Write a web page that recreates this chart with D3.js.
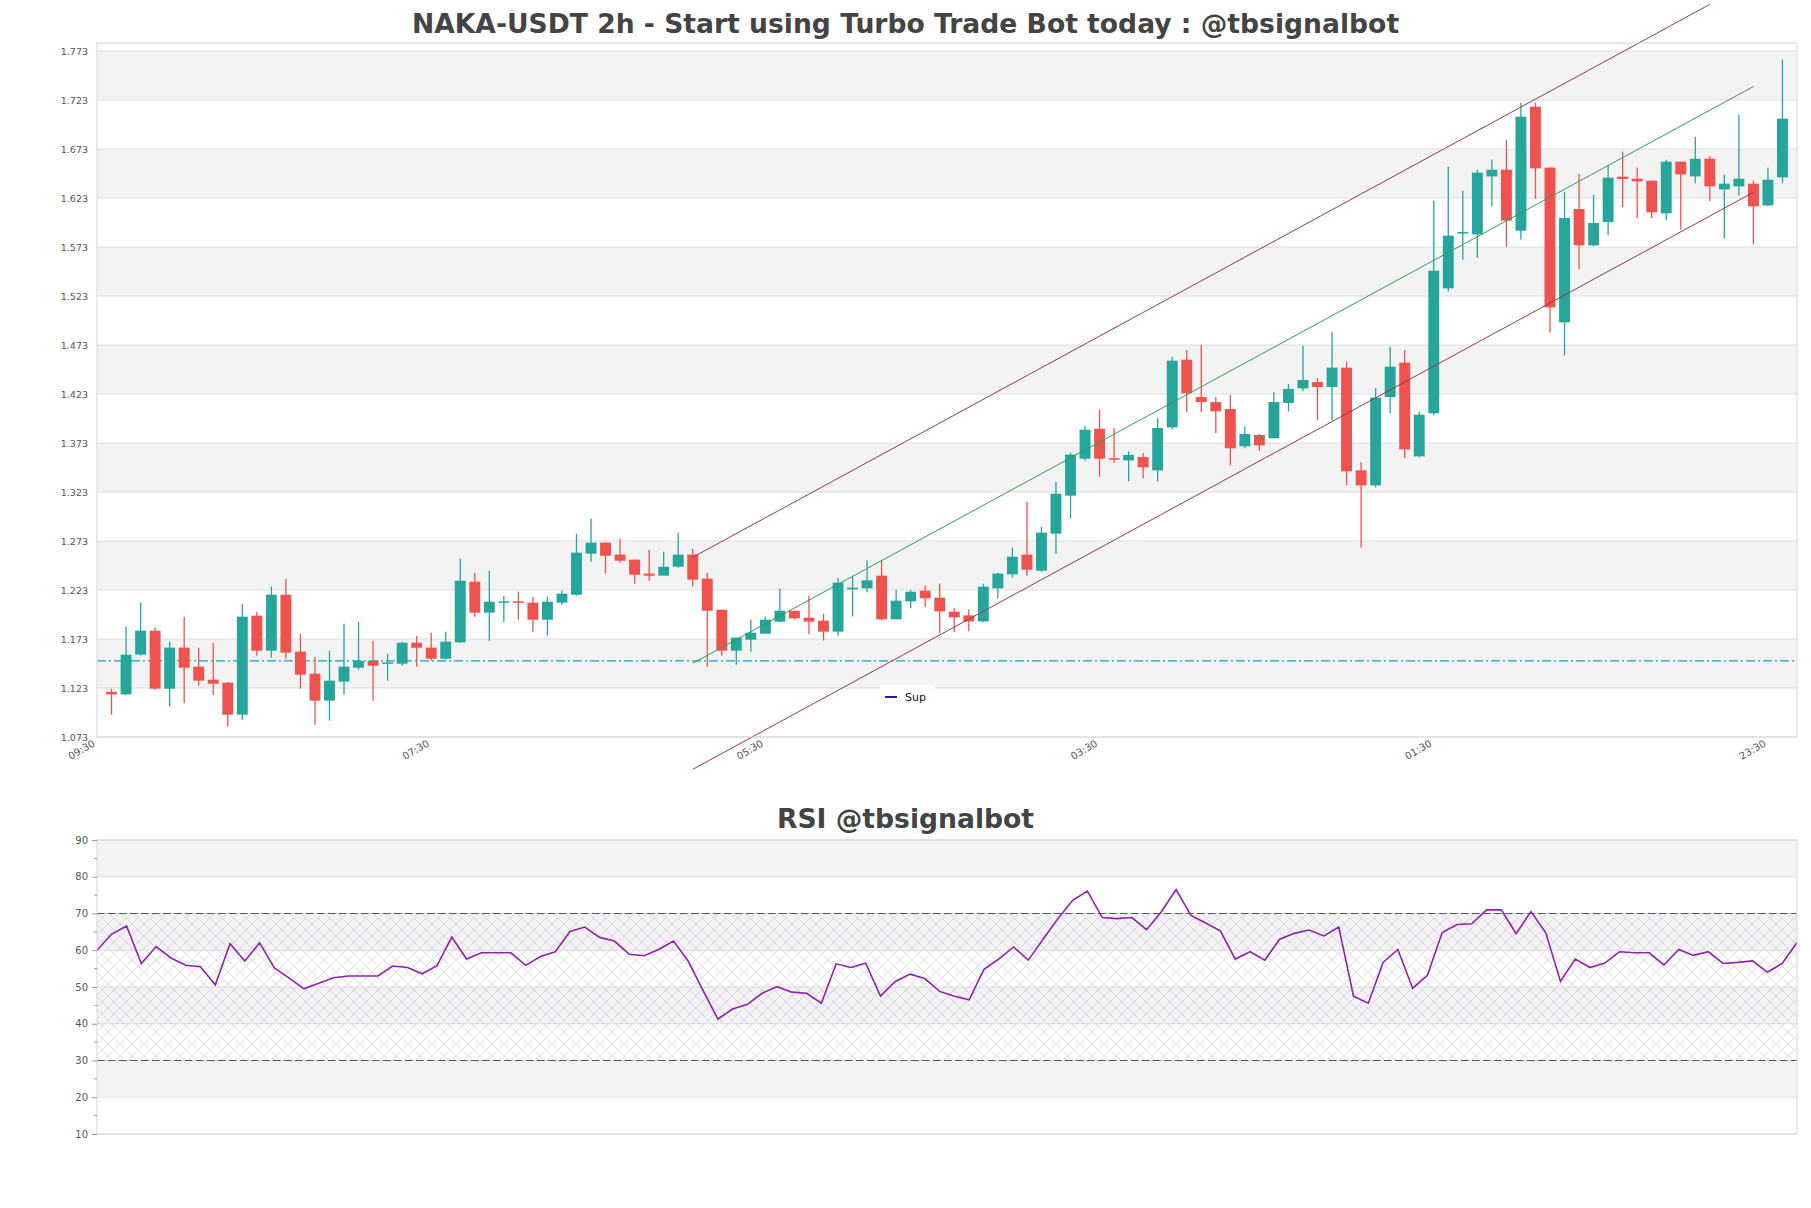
<!DOCTYPE html>
<html><head><meta charset="utf-8">
<script src="https://cdn.jsdelivr.net/npm/d3@7"></script>
<style>html,body{margin:0;padding:0;background:#fff;}svg{display:block;font-family:"DejaVu Sans",sans-serif;}</style>
</head><body>
<script>
// ---------------- data ----------------
const openV = [1.119,1.1165,1.157,1.1815,1.1223,1.1642,1.1448,1.1315,1.1284,1.0958,
1.1968,1.1611,1.2182,1.1601,1.1376,1.1101,1.1295,1.1437,1.1506,1.1482,
1.1478,1.1692,1.1642,1.1529,1.1696,1.2315,1.1999,1.2111,1.2114,1.2101,
1.1927,1.2101,1.2182,1.2601,1.2713,1.2591,1.254,1.2397,1.2376,1.2468,
1.2591,1.2346,1.2029,1.1611,1.1723,1.1784,1.1907,1.2019,1.1948,1.1917,
1.1805,1.2237,1.2247,1.2376,1.1931,1.2114,1.2223,1.2152,1.2009,1.1971,
1.191,1.2247,1.239,1.2591,1.2427,1.2805,1.3193,1.357,1.3876,1.3575,
1.3553,1.3587,1.3451,1.389,1.458,1.4199,1.4148,1.4077,1.3696,1.3812,
1.3778,1.4138,1.4288,1.4352,1.4301,1.4499,1.3451,1.3298,1.4199,1.455,
1.3594,1.4033,1.5308,1.5875,1.5859,1.6451,1.6519,1.5897,1.7162,1.654,
1.4961,1.6118,1.5747,1.5985,1.6448,1.6427,1.6407,1.6074,1.6601,1.6451,
1.6631,1.6318,1.6349,1.6376,1.6155,1.6441];
const highV = [1.1223,1.1856,1.2101,1.1846,1.1703,1.1958,1.1642,1.1693,1.1291,1.2091,
1.2009,1.2264,1.2346,1.1784,1.155,1.1611,1.1886,1.1907,1.1713,1.158,
1.1703,1.1764,1.1795,1.1805,1.255,1.2407,1.2427,1.2172,1.2213,1.2162,
1.2162,1.2223,1.2805,1.2958,1.2716,1.2754,1.254,1.2642,1.2621,1.2815,
1.2652,1.2407,1.2029,1.1744,1.1927,1.1958,1.2244,1.2019,1.2172,1.1988,
1.2356,1.2376,1.2533,1.2529,1.2233,1.2233,1.2274,1.2294,1.2043,1.2033,
1.2294,1.2407,1.2662,1.3131,1.2876,1.3335,1.3631,1.3907,1.407,1.3883,
1.3645,1.3628,1.3985,1.4611,1.4682,1.473,1.4199,1.422,1.39,1.3822,
1.425,1.4332,1.4723,1.4393,1.4866,1.456,1.3533,1.4291,1.4713,1.4682,
1.405,1.6203,1.655,1.6305,1.6519,1.6621,1.6825,1.7203,1.7203,1.6545,
1.6295,1.6478,1.6264,1.657,1.6703,1.654,1.6407,1.6621,1.6601,1.6856,
1.6662,1.6468,1.708,1.6407,1.654,1.7642];
const lowV = [1.0958,1.1155,1.156,1.1213,1.104,1.1074,1.1254,1.1162,1.0835,1.0907,
1.156,1.1539,1.1529,1.1223,1.0856,1.0897,1.1162,1.1417,1.1101,1.1305,
1.1458,1.1447,1.1508,1.152,1.169,1.1958,1.1713,1.19,1.1927,1.1805,
1.1764,1.208,1.2172,1.2519,1.2397,1.2509,1.2295,1.2325,1.2386,1.2458,
1.2264,1.1448,1.156,1.1468,1.1601,1.178,1.19,1.1927,1.1778,1.1716,
1.1764,1.1961,1.2206,1.192,1.1931,1.2043,1.206,1.1788,1.1798,1.1808,
1.19,1.2145,1.2359,1.2376,1.2417,1.2601,1.2958,1.355,1.3386,1.3526,
1.3339,1.3369,1.3339,1.387,1.4043,1.4043,1.3832,1.3502,1.3676,1.3648,
1.3778,1.4053,1.4257,1.3961,1.3961,1.3298,1.2665,1.3278,1.4033,1.3574,
1.3584,1.4012,1.5277,1.5601,1.5621,1.6145,1.5733,1.5805,1.6223,1.4859,
1.4625,1.5502,1.5737,1.5849,1.6135,1.6023,1.6026,1.6002,1.591,1.638,
1.6196,1.5818,1.6257,1.5757,1.6145,1.638];
const closeV = [1.1165,1.157,1.1815,1.1223,1.1642,1.1437,1.1305,1.1274,1.0958,1.1958,
1.1611,1.2182,1.1591,1.1366,1.1101,1.1305,1.1448,1.1506,1.1458,1.1492,
1.1692,1.1641,1.1529,1.1703,1.2325,1.1999,1.2111,1.2114,1.2111,1.1927,
1.2111,1.2193,1.2611,1.2713,1.258,1.2529,1.2386,1.2376,1.2468,1.2591,
1.2335,1.2019,1.1611,1.1744,1.1795,1.1927,1.2019,1.1941,1.1907,1.1805,
1.2305,1.2254,1.2329,1.1931,1.2121,1.2213,1.2145,1.2012,1.1951,1.191,
1.2264,1.2397,1.257,1.2437,1.2815,1.3213,1.3611,1.3866,1.357,1.3565,
1.3608,1.3482,1.3883,1.457,1.4237,1.4148,1.4053,1.3676,1.3822,1.3706,
1.4148,1.4281,1.4373,1.4301,1.4499,1.3441,1.3298,1.4193,1.4509,1.3665,
1.4019,1.5488,1.5846,1.5883,1.6489,1.6519,1.5999,1.706,1.6533,1.5114,
1.6026,1.5747,1.5975,1.6437,1.6424,1.640,1.6084,1.6601,1.6471,1.6631,
1.6349,1.6376,1.6427,1.6145,1.6417,1.704];
const rsiV = [60,64.4,66.6,56.4,61,57.9,55.9,55.5,50.6,61.8,
57.1,62,55.2,52.4,49.5,51,52.5,53,53,53,
55.7,55.3,53.6,55.8,63.6,57.6,59.3,59.3,59.3,55.9,
58.3,59.6,65.1,66.3,63.5,62.5,58.9,58.5,60.2,62.5,
57,49,41.3,44,45.3,48.3,50.1,48.6,48.3,45.6,
56.3,55.3,56.5,47.5,51.5,53.5,52.3,48.8,47.5,46.5,
54.8,57.6,60.9,57.3,63,68.6,73.6,76.1,68.9,68.6,
68.9,65.6,70.5,76.5,69.5,67.4,65.2,57.6,59.6,57.3,
63,64.6,65.5,63.9,66.3,47.5,45.6,56.7,60.2,49.6,
53.2,64.8,67,67.2,71,71,64.5,70.5,64.8,51.5,
57.6,55.3,56.5,59.6,59.3,59.3,56,60.2,58.6,59.6,
56.4,56.7,57.1,54,56.4,62.1];
const priceTicks = [1.073,1.123,1.173,1.223,1.273,1.323,1.373,1.423,1.473,1.523,1.573,1.623,1.673,1.723,1.773];
const xTickIdx = [-1,22,45,68,91,114];
const xTickLabels = ["09:30","07:30","05:30","03:30","01:30","23:30"];
const rsiTicks = [10,20,30,40,50,60,70,80,90];
const supLevel = 1.1506;
// channel lines: [startIdx, startPrice, endIdx, endPrice]
const channelUpper = [40,1.2564,110,1.8206];
const channelMid = [40,1.1482,113,1.7368];
const channelLower = [40,1.0400,113,1.6288];
const titleText = "NAKA-USDT 2h - Start using Turbo Trade Bot today : @tbsignalbot";
const rsiTitle = "RSI @tbsignalbot";

// ---------------- layout ----------------
const W = 1811, H = 1208;
const L = 97, R = 1797, T = 43, B = 737;
const RT = 840, RB = 1134;
const UP = "#26a69a", DOWN = "#ef5350", BAND = "#f3f3f3", GRID = "#dddddd", FRAME = "#d6d6d6";

const svg = d3.select("body").append("svg").attr("width", W).attr("height", H);
svg.append("rect").attr("width", W).attr("height", H).attr("fill", "#fff");

const N = closeV.length;
const x = d3.scaleLinear().domain([-1, N]).range([L, R]);
const y = d3.scaleLinear().domain([1.073, 1.7812]).range([B, T]);

// bands
const gMain = svg.append("g");
for (let i = 0; i < priceTicks.length - 1; i++) {
  if (i % 2 === 1) {
    gMain.append("rect").attr("x", L).attr("width", R - L)
      .attr("y", y(priceTicks[i + 1])).attr("height", y(priceTicks[i]) - y(priceTicks[i + 1]))
      .attr("fill", BAND);
  }
}
// grid
gMain.selectAll("line.grid").data(priceTicks).join("line")
  .attr("x1", L).attr("x2", R).attr("y1", d => y(d)).attr("y2", d => y(d))
  .attr("stroke", GRID).attr("stroke-width", 1);

// y axis labels
const yAxis = d3.axisLeft(y).tickValues(priceTicks).tickFormat(d3.format(".3f")).tickSize(0).tickPadding(9);
const gy = svg.append("g").attr("transform", `translate(${L},0)`).call(yAxis);
gy.select(".domain").remove();
gy.selectAll("text").attr("font-size", 9.5).attr("fill", "#555").attr("font-family", "DejaVu Sans");

// x axis labels
const gx = svg.append("g");
xTickIdx.forEach((t, i) => {
  gx.append("text").attr("transform", `translate(${x(t) - 5},${B + 2}) rotate(-30)`)
    .attr("text-anchor", "end").attr("dy", "0.75em")
    .attr("font-size", 10).attr("fill", "#555").text(xTickLabels[i]);
});

// support line
gMain.append("line").attr("x1", L).attr("x2", R).attr("y1", y(supLevel)).attr("y2", y(supLevel))
  .attr("stroke", "#1f9ad6").attr("stroke-width", 1.2).attr("stroke-dasharray", "9,3,2,3");

// candles
const cw = (x(1) - x(0)) * 0.75;
const gC = svg.append("g");
d3.range(N).forEach(i => {
  const up = closeV[i] >= openV[i];
  const col = up ? UP : DOWN;
  gC.append("line").attr("x1", x(i)).attr("x2", x(i)).attr("y1", y(highV[i])).attr("y2", y(lowV[i]))
    .attr("stroke", col).attr("stroke-width", 1.3);
  const top = y(Math.max(openV[i], closeV[i])), bot = y(Math.min(openV[i], closeV[i]));
  gC.append("rect").attr("x", x(i) - cw / 2).attr("width", cw)
    .attr("y", top).attr("height", Math.max(1.5, bot - top)).attr("fill", col);
});

// channel
const chan = [[channelUpper, "#8e3b55"], [channelMid, "#2f9c5c"], [channelLower, "#8e3b55"]];
chan.forEach(([c, col]) => {
  svg.append("line").attr("x1", x(c[0])).attr("y1", y(c[1]))
    .attr("x2", x(c[2])).attr("y2", y(c[3]))
    .attr("stroke", col).attr("stroke-width", 1);
});

// frame
svg.append("rect").attr("x", L).attr("y", T).attr("width", R - L).attr("height", B - T)
  .attr("fill", "none").attr("stroke", FRAME);

// legend
const lg = svg.append("g");
lg.append("rect").attr("x", 880).attr("y", 685).attr("width", 55).attr("height", 24).attr("fill", "#fff").attr("opacity", 0.85);
lg.append("line").attr("x1", 885).attr("x2", 897).attr("y1", 697).attr("y2", 697).attr("stroke", "#1a1aa8").attr("stroke-width", 2);
lg.append("text").attr("x", 905).attr("y", 700.5).attr("font-size", 11).attr("fill", "#111").text("Sup");

// title
svg.append("text").attr("x", 905.5).attr("y", 32.5).attr("text-anchor", "middle")
  .attr("font-size", 26.6).attr("font-weight", "bold").attr("fill", "#444").text(titleText);

// ---------------- RSI ----------------
const xr = d3.scaleLinear().domain([0, N - 1]).range([L, R]);
const yr = d3.scaleLinear().domain([10, 90]).range([RB, RT]);
const defs = svg.append("defs");
const pat = defs.append("pattern").attr("id", "hatch").attr("patternUnits", "userSpaceOnUse")
  .attr("width", 12).attr("height", 12);
pat.append("path").attr("d", "M0,0 L12,12 M12,0 L0,12").attr("stroke", "#cdbfdc").attr("stroke-width", 0.7);

const gR = svg.append("g");
for (let i = 0; i < rsiTicks.length - 1; i++) {
  if ((rsiTicks.length - 2 - i) % 2 === 0) {
    gR.append("rect").attr("x", L).attr("width", R - L)
      .attr("y", yr(rsiTicks[i + 1])).attr("height", yr(rsiTicks[i]) - yr(rsiTicks[i + 1])).attr("fill", BAND);
  }
}
gR.selectAll("line.g").data(rsiTicks).join("line")
  .attr("x1", L).attr("x2", R).attr("y1", d => yr(d)).attr("y2", d => yr(d)).attr("stroke", GRID);
gR.append("rect").attr("x", L).attr("width", R - L).attr("y", yr(70)).attr("height", yr(30) - yr(70))
  .attr("fill", "url(#hatch)").attr("opacity", 0.8);
[70, 30].forEach(v => gR.append("line").attr("x1", L).attr("x2", R).attr("y1", yr(v)).attr("y2", yr(v))
  .attr("stroke", "#555").attr("stroke-width", 1.2).attr("stroke-dasharray", "7.5,3.5"));

gR.append("path").datum(rsiV)
  .attr("d", d3.line().x((d, i) => xr(i)).y(d => yr(d)))
  .attr("fill", "none").attr("stroke", "#8e24aa").attr("stroke-width", 1.6);

gR.append("rect").attr("x", L).attr("y", RT).attr("width", R - L).attr("height", RB - RT)
  .attr("fill", "none").attr("stroke", FRAME);

const ryAxis = d3.axisLeft(yr).tickValues(rsiTicks).tickSize(5).tickPadding(4);
const gry = svg.append("g").attr("transform", `translate(${L},0)`).call(ryAxis);
gry.select(".domain").remove();
gry.selectAll("line").attr("stroke", "#999");
gry.selectAll("text").attr("font-size", 10).attr("fill", "#555").attr("font-family", "DejaVu Sans");
const minor = d3.range(15, 90, 10);
svg.append("g").selectAll("line").data(minor).join("line")
  .attr("x1", L - 3).attr("x2", L).attr("y1", d => yr(d)).attr("y2", d => yr(d)).attr("stroke", "#999");

svg.append("text").attr("x", 905.5).attr("y", 827.5).attr("text-anchor", "middle")
  .attr("font-size", 26.6).attr("font-weight", "bold").attr("fill", "#444").text(rsiTitle);
</script>
</body></html>
